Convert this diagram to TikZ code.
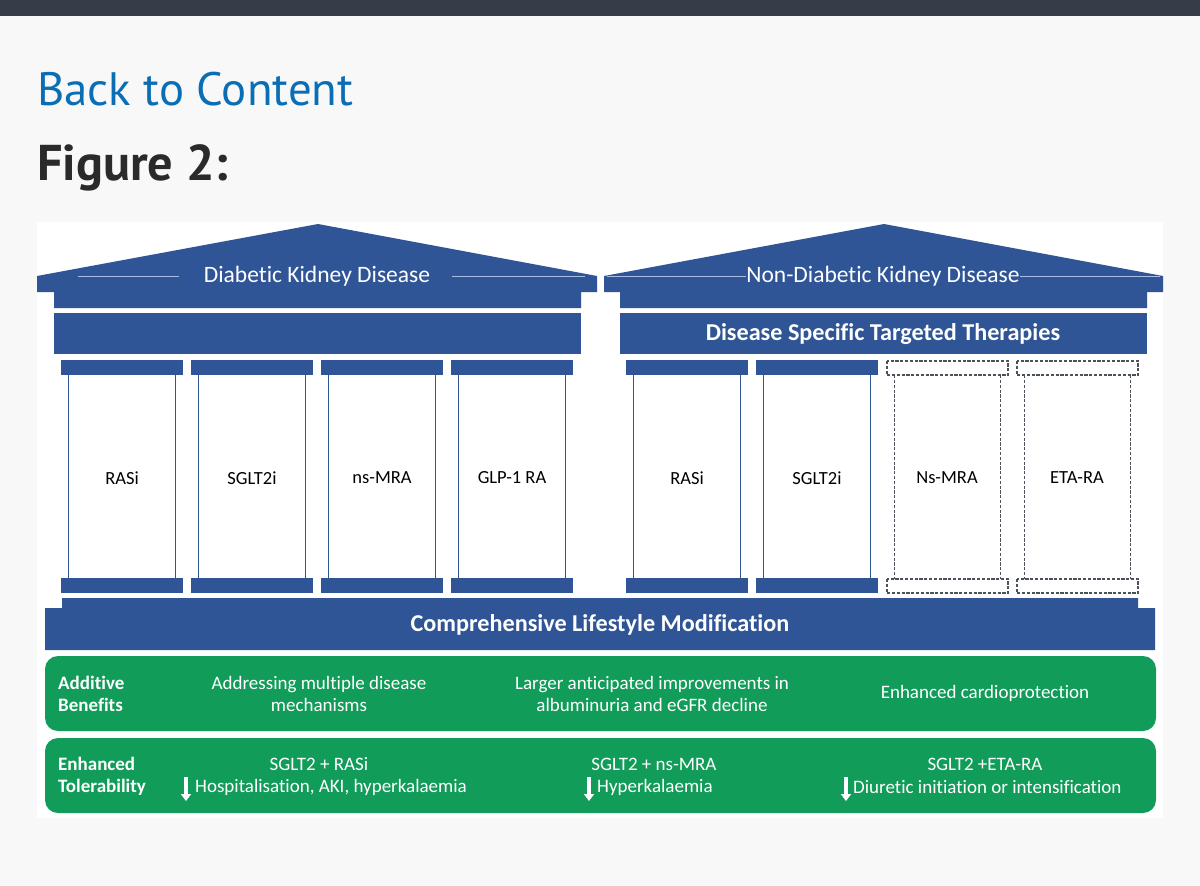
\documentclass[tikz,border=0pt]{standalone}
\usepackage{fontspec}
\setmainfont{Carlito}[Ligatures={NoCommon}]
\newfontfamily\hdr{PT Sans}
\usetikzlibrary{arrows.meta}
\definecolor{navy}{HTML}{2F5597}
\definecolor{pagebg}{HTML}{F8F8F8}
\definecolor{topbar}{HTML}{363D49}
\definecolor{linkblue}{HTML}{0A6EB4}
\definecolor{headtxt}{HTML}{2A2A2A}
\definecolor{grn}{HTML}{129C59}
\definecolor{dashgray}{HTML}{4C525C}
\definecolor{roofline}{HTML}{A9BDE3}
\tikzset{
  shaft/.style={draw=navy, line width=1.8pt},
  dashcol/.style={draw=dashgray, line width=1.7pt, dash pattern=on 3.2pt off 1.6pt},
  rooftxt/.style={text=white, font=\fontsize{23.5}{27}\selectfont, inner sep=0},
  beamtxt/.style={text=white, font=\bfseries\fontsize{24.2}{28}\selectfont, inner sep=0},
  coltxt/.style={text=black, font=\fontsize{18.5}{22}\selectfont, inner sep=0},
  grnbox/.style={fill=grn, rounded corners=13pt},
  grntxt/.style={text=white, font=\fontsize{19}{22}\selectfont, align=center, inner sep=0},
  grnhead/.style={text=white, font=\bfseries\fontsize{19}{22}\selectfont, align=left, inner sep=0, anchor=west},
  downarrow/.style={draw=white, line width=3.6pt, -{Triangle[width=10pt,length=7pt]}},
  thinline/.style={draw=roofline, line width=0.8pt}
}
\begin{document}
\begin{tikzpicture}[x=1pt,y=-1pt]
\useasboundingbox (0,0) rectangle (1200,886);
\fill[pagebg] (0,0) rectangle (1200,886);
\fill[topbar] (0,0) rectangle (1200,16);
\node[anchor=base west, inner sep=0, text=linkblue, font=\hdr] (back) at (37,105) {\resizebox{316pt}{!}{Back to Content}};
\node[anchor=base west, inner sep=0, text=headtxt, font=\hdr\bfseries] (fig) at (37,180) {\resizebox{191pt}{!}{Figure 2:}};
% white diagram area
\fill[white] (37,222) rectangle (1163,818);
% roofs
\fill[navy] (37,276) -- (318,224) -- (597,276) -- (597,292) -- (581,292) -- (581,308) -- (54,308) -- (54,292) -- (37,292) -- cycle;
\fill[navy] (604,276) -- (884,224) -- (1163,276) -- (1163,292) -- (1147,292) -- (1147,308) -- (620,308) -- (620,292) -- (604,292) -- cycle;
\node[rooftxt] (dkd) at (317,276) {Diabetic Kidney Disease};
\node[rooftxt] (ndkd) at (883,276) {Non-Diabetic Kidney Disease};
\coordinate (l1) at (78,276); \coordinate (l2) at (179,276);
\coordinate (l3) at (452,276); \coordinate (l4) at (585,276);
\draw[thinline] (l1) -- (l2);
\draw[thinline] (l3) -- (l4);
\coordinate (r1) at (607,276); \coordinate (r2) at (1160,276);
\draw[thinline] (r1) -- (r1 -| ndkd.west);
\draw[thinline] (r2 -| ndkd.east) -- (r2);
% beams
\fill[navy] (54,313) rectangle (581,354);
\fill[navy] (620,313) rectangle (1147,354);
\node[beamtxt] (dstt) at (883,334) {Disease Specific Targeted Therapies};
% solid columns
\foreach \x/\t/\n in {61/RASi/a,191/SGLT2i/b,321/ns-MRA/c,451/GLP-1 RA/d,626/RASi/e,756/SGLT2i/f}{
  \fill[navy] (\x,360) rectangle ++(122,15);
  \fill[navy] (\x,578) rectangle ++(122,15);
  \draw[shaft] (\x+7.5,375) -- (\x+7.5,578);
  \draw[shaft] (\x+114.5,375) -- (\x+114.5,578);
  \node[coltxt] (col\n) at (\x+61,478) {\t};
}
% dashed columns
\foreach \x/\t/\n in {886/Ns-MRA/g,1016/ETA-RA/h}{
  \draw[dashcol] (\x+0.9,360.9) rectangle (\x+122.1,375.1);
  \draw[dashcol] (\x+0.9,578.9) rectangle (\x+122.1,593.1);
  \draw[dashcol] (\x+8.5,375.1) -- (\x+8.5,578.9);
  \draw[dashcol] (\x+114.5,375.1) -- (\x+114.5,578.9);
  \node[coltxt] (col\n) at (\x+61,478) {\t};
}
% foundation
\fill[navy] (62,598) -- (1138,598) -- (1138,608) -- (1155,608) -- (1155,650) -- (45,650) -- (45,608) -- (62,608) -- cycle;
\node[beamtxt] (clm) at (600,625) {Comprehensive Lifestyle Modification};
% green boxes
\fill[grnbox] (45,656) rectangle (1156,731);
\fill[grnbox] (45,738) rectangle (1156,813);
\node[grnhead] (addb) at (58,694) {Additive\\Benefits};
\node[grntxt] (ab1) at (319,694) {Addressing multiple disease\\mechanisms};
\node[grntxt] (ab2) at (652,694) {Larger anticipated improvements in\\albuminuria and eGFR decline};
\node[grntxt] (ab3) at (985,693) {Enhanced cardioprotection};
\node[grnhead] (enht) at (58,776) {Enhanced\\Tolerability};
\node[grntxt] (t1a) at (319,764) {SGLT2 + RASi};
\node[grntxt, anchor=west] (t1b) at (195,787) {Hospitalisation, AKI, hyperkalaemia};
\node[grntxt] (t2a) at (654,764) {SGLT2 + ns-MRA};
\node[grntxt, anchor=west] (t2b) at (597,787) {Hyperkalaemia};
\node[grntxt] (t3a) at (985,764) {SGLT2 +ETA-RA};
\node[grntxt, anchor=west] (t3b) at (853,787) {Diuretic initiation or intensification};
\coordinate (a1s) at (186,777); \coordinate (a1e) at (186,801);
\coordinate (a2s) at (589,777); \coordinate (a2e) at (589,801);
\coordinate (a3s) at (846,777); \coordinate (a3e) at (846,801);
\draw[downarrow] (a1s) -- (a1e);
\draw[downarrow] (a2s) -- (a2e);
\draw[downarrow] (a3s) -- (a3e);
\end{tikzpicture}
\end{document}
